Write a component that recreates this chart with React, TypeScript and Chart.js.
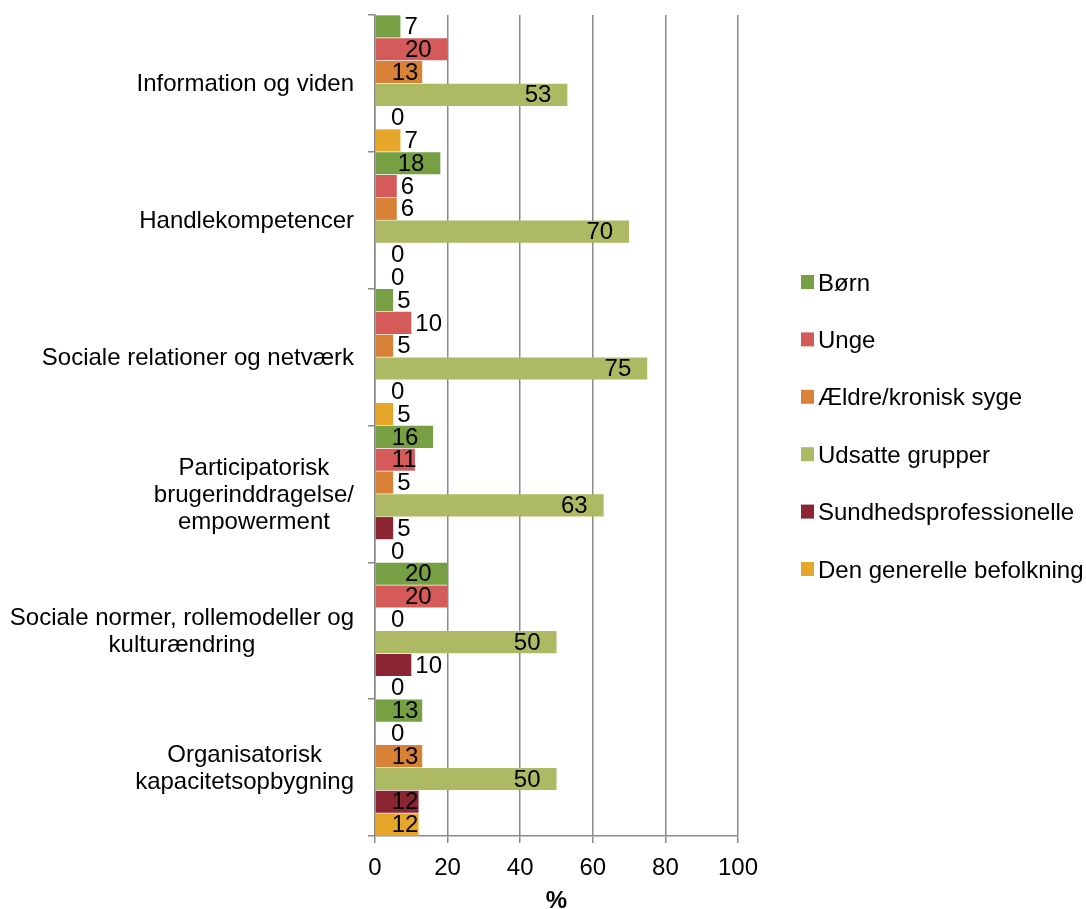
import React, { useEffect, useRef } from 'react';
import { Chart, registerables } from 'chart.js';

Chart.register(...registerables);

// Category labels (one entry per line of the label)
const categories: string[][] = [
  ['Information og viden'],
  ['Handlekompetencer'],
  ['Sociale relationer og netværk'],
  ['Participatorisk', 'brugerinddragelse/', 'empowerment'],
  ['Sociale normer, rollemodeller og', 'kulturændring'],
  ['Organisatorisk', 'kapacitetsopbygning'],
];

const seriesNames = [
  'Børn',
  'Unge',
  'Ældre/kronisk syge',
  'Udsatte grupper',
  'Sundhedsprofessionelle',
  'Den generelle befolkning',
];

// Share (%) per target group, in category order
const boern = [7, 18, 5, 16, 20, 13];
const unge = [20, 6, 10, 11, 20, 0];
const aeldre = [13, 6, 5, 5, 0, 13];
const udsatte = [53, 70, 75, 63, 50, 50];
const sundhedsprof = [0, 0, 0, 5, 10, 12];
const befolkning = [7, 0, 5, 0, 0, 12];

const xTicks = [0, 20, 40, 60, 80, 100];

const seriesColors = ['#76A043', '#D55B5B', '#D98237', '#AEB963', '#8B2433', '#E6A629'];

const FONT = "Arial, 'Liberation Sans', sans-serif";
const SIZE = 24;
const GRID = '#8a8a8a';

// Value labels: inside the bar end when it fits, otherwise just past it
const valueLabels = {
  id: 'valueLabels',
  afterDatasetsDraw(chart: any) {
    const ctx = chart.ctx;
    ctx.save();
    ctx.font = `${SIZE}px ${FONT}`;
    ctx.fillStyle = '#000';
    ctx.textBaseline = 'middle';
    ctx.textAlign = 'left';
    chart.data.datasets.forEach((ds: any, di: number) => {
      const meta = chart.getDatasetMeta(di);
      meta.data.forEach((el: any, i: number) => {
        const txt = String(ds.data[i]);
        const w = ctx.measureText(txt).width;
        const start = el.base;
        const end = el.x;
        let left: number;
        if (end - start - w >= 13) {
          left = Math.max(end - 16 - w, start + 16);
        } else {
          left = Math.max(end + 4, start + 16);
        }
        ctx.fillText(txt, left, el.y + 1);
      });
    });
    ctx.restore();
  },
};

// Category names: block right-aligned to the axis, lines centred within the block
const categoryLabels = {
  id: 'categoryLabels',
  afterDraw(chart: any) {
    const ctx = chart.ctx;
    const yScale = chart.scales.y;
    ctx.save();
    ctx.font = `${SIZE}px ${FONT}`;
    ctx.fillStyle = '#000';
    ctx.textBaseline = 'middle';
    ctx.textAlign = 'center';
    categories.forEach((lines, i) => {
      const cy = yScale.getPixelForValue(i);
      const maxW = Math.max(...lines.map((l) => ctx.measureText(l).width));
      const cx = chart.chartArea.left - 21 - maxW / 2;
      lines.forEach((l, k) => {
        ctx.fillText(l, cx, cy + (k - (lines.length - 1) / 2) * 27 + 1);
      });
    });
    ctx.restore();
  },
};

// Vertical legend to the right of the plot
const sideLegend = {
  id: 'sideLegend',
  afterDraw(chart: any) {
    const ctx = chart.ctx;
    const { chartArea } = chart;
    const cy = (chartArea.top + chartArea.bottom) / 2;
    const step = 57.4;
    const n = chart.data.datasets.length;
    const boxX = chartArea.right + 63;
    ctx.save();
    ctx.font = `${SIZE}px ${FONT}`;
    ctx.textBaseline = 'middle';
    ctx.textAlign = 'left';
    chart.data.datasets.forEach((ds: any, i: number) => {
      const y = cy + (i - (n - 1) / 2) * step;
      ctx.fillStyle = ds.backgroundColor;
      ctx.fillRect(boxX, y - 7, 13, 14);
      ctx.fillStyle = '#000';
      ctx.fillText(ds.label, boxX + 17, y + 2);
    });
    ctx.restore();
  },
};

export default function App() {
  const canvasRef = useRef<HTMLCanvasElement | null>(null);

  useEffect(() => {
    if (!canvasRef.current) return;
    const values = [boern, unge, aeldre, udsatte, sundhedsprof, befolkning];
    const chart = new Chart(canvasRef.current, {
      type: 'bar',
      data: {
        labels: categories.map((c) => c.join(' ')),
        datasets: values.map((data, i) => ({
          label: seriesNames[i],
          data,
          backgroundColor: seriesColors[i],
          borderWidth: 0,
          categoryPercentage: 1,
          barPercentage: 0.97,
        })),
      },
      options: {
        indexAxis: 'y',
        animation: false,
        responsive: false,
        devicePixelRatio: 1,
        layout: { padding: { top: 15, right: 348, bottom: 0, left: 0 } },
        plugins: {
          legend: { display: false },
          tooltip: { enabled: false },
        },
        scales: {
          x: {
            min: 0,
            max: 100,
            afterBuildTicks: (s: any) => {
              s.ticks = xTicks.map((v) => ({ value: v }));
            },
            ticks: {
              color: '#000',
              padding: 11,
              font: { family: FONT, size: SIZE },
            },
            grid: {
              color: GRID,
              lineWidth: 1.5,
              drawTicks: true,
              tickLength: 7,
              tickColor: GRID,
            },
            border: { color: GRID, width: 1.5 },
            title: {
              display: true,
              text: '%',
              color: '#000',
              padding: 0,
              font: { family: FONT, size: SIZE, weight: 'bold', lineHeight: 0.65 },
            },
            afterFit: (s: any) => {
              s.height = 73;
            },
          },
          y: {
            ticks: { display: false },
            grid: {
              drawOnChartArea: false,
              drawTicks: true,
              tickLength: 7,
              color: GRID,
              lineWidth: 1.5,
              offset: true,
            },
            border: { color: GRID, width: 1.5 },
            afterFit: (s: any) => {
              s.width = 375;
            },
          },
        },
      } as any,
      plugins: [valueLabels, categoryLabels, sideLegend],
    });
    return () => chart.destroy();
  }, []);

  return (
    <div style={{ position: 'fixed', left: 0, top: 0, width: 1086, height: 909, background: '#fff' }}>
      <canvas ref={canvasRef} width={1086} height={909} style={{ display: 'block' }} />
    </div>
  );
}
